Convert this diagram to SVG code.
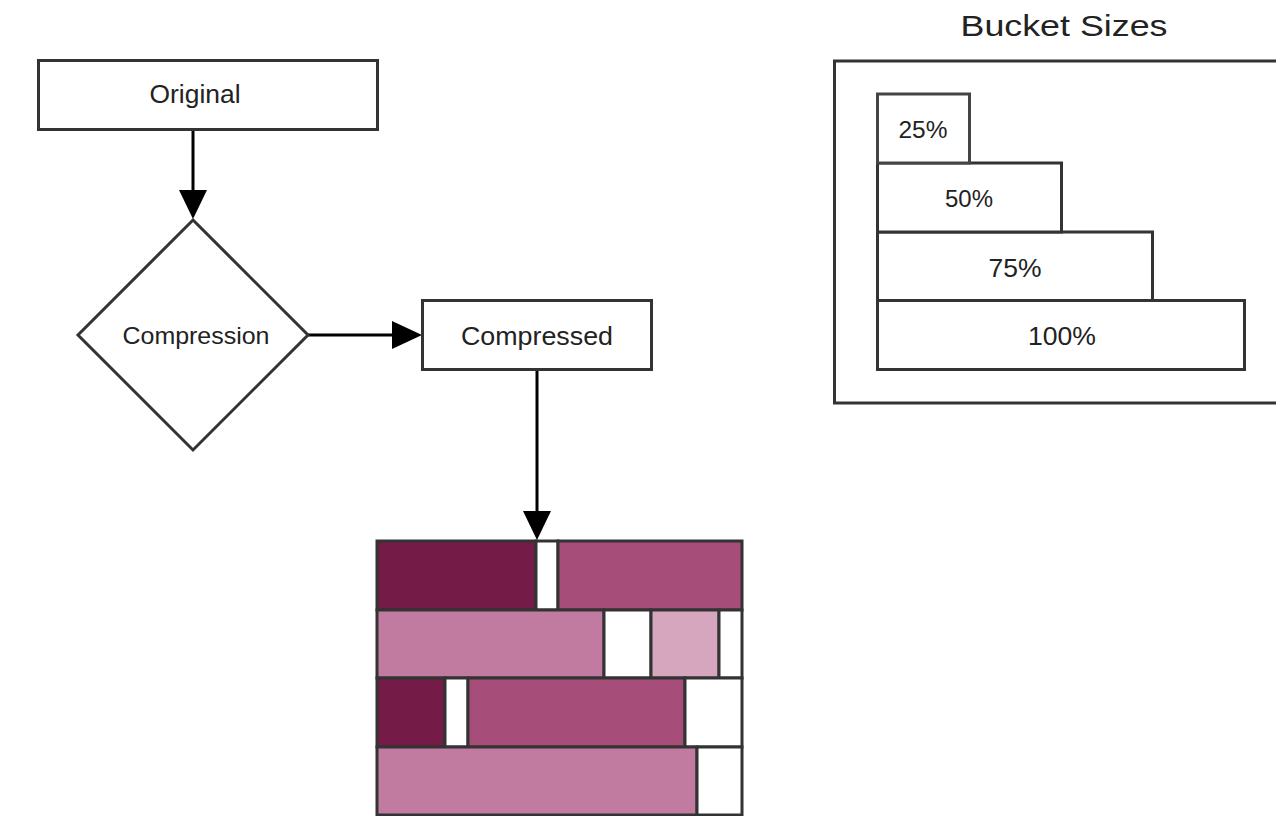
<svg xmlns="http://www.w3.org/2000/svg" width="1276" height="816" viewBox="0 0 1276 816">
  <style>
    .box { fill: #ffffff; stroke: #333333; stroke-width: 3; }
    .cell { stroke: #333333; stroke-width: 3; }
    .lbl { font-family: "Liberation Sans", Arial, sans-serif; fill: #222222; text-anchor: middle; }
    .conn { stroke: #000000; stroke-width: 3; fill: none; }
    .d { fill: #741B47; }
    .m { fill: #A64D79; }
    .p { fill: #C27BA0; }
    .l { fill: #D5A6BD; }
    .w { fill: #ffffff; }
  </style>
  <defs>
    <marker id="arrow" viewBox="0 0 10 10" refX="10" refY="5" markerWidth="9.5" markerHeight="9.5" markerUnits="userSpaceOnUse" orient="auto">
      <path d="M0,0 L10,5 L0,10 Z" fill="#000000"/>
    </marker>
  </defs>
  <rect width="1276" height="816" fill="#ffffff"/>

  <g id="connectors">
    <line class="conn" x1="193" y1="130" x2="193" y2="195"/>
    <polygon points="179,190 207,190 193,219" fill="#000000"/>
    <line class="conn" x1="308" y1="335" x2="396" y2="335"/>
    <polygon points="392,321 392,349 422,335" fill="#000000"/>
    <line class="conn" x1="537" y1="370" x2="537" y2="515"/>
    <polygon points="523,511 551,511 537,540" fill="#000000"/>
  </g>

  <g id="node-original">
    <rect class="box" x="38.5" y="60.5" width="339" height="69"/>
    <text class="lbl" x="195" y="103" font-size="26" textLength="91" lengthAdjust="spacingAndGlyphs">Original</text>
  </g>

  <g id="node-compression">
    <polygon class="box" points="193,220 308,335 193,450 78,335"/>
    <text class="lbl" x="196" y="344" font-size="24" textLength="147" lengthAdjust="spacingAndGlyphs">Compression</text>
  </g>

  <g id="node-compressed">
    <rect class="box" x="422.5" y="300.5" width="229" height="69"/>
    <text class="lbl" x="537" y="345" font-size="26" textLength="152" lengthAdjust="spacingAndGlyphs">Compressed</text>
  </g>

  <g id="node-buckets-grid">
    <rect class="cell d" x="377" y="541" width="159" height="69"/>
    <rect class="cell w" x="536" y="541" width="22" height="69"/>
    <rect class="cell m" x="558" y="541" width="184" height="69"/>

    <rect class="cell p" x="377" y="610" width="227" height="68"/>
    <rect class="cell w" x="604" y="610" width="47" height="68"/>
    <rect class="cell l" x="651" y="610" width="68" height="68"/>
    <rect class="cell w" x="719" y="610" width="23" height="68"/>

    <rect class="cell d" x="377" y="678" width="68" height="69"/>
    <rect class="cell w" x="445" y="678" width="23" height="69"/>
    <rect class="cell m" x="468" y="678" width="217" height="69"/>
    <rect class="cell w" x="685" y="678" width="57" height="69"/>

    <rect class="cell p" x="377" y="747" width="320" height="68"/>
    <rect class="cell w" x="697" y="747" width="45" height="68"/>
  </g>

  <g id="node-bucket-sizes">
    <text class="lbl" x="1064" y="36" font-size="29" textLength="207" lengthAdjust="spacingAndGlyphs">Bucket Sizes</text>
    <rect class="box" x="834.5" y="61" width="460" height="342"/>
    <rect class="box" x="877.5" y="300.5" width="367" height="69"/>
    <rect class="box" x="877.5" y="232" width="275" height="68.5"/>
    <rect class="box" x="877.5" y="163" width="184" height="69"/>
    <rect x="877.5" y="94" width="92" height="69" fill="#ffffff" stroke="#444444" stroke-width="3"/>
    <text class="lbl" x="923" y="138" font-size="24" textLength="49" lengthAdjust="spacingAndGlyphs">25%</text>
    <text class="lbl" x="969" y="207" font-size="24" textLength="48" lengthAdjust="spacingAndGlyphs">50%</text>
    <text class="lbl" x="1015" y="277" font-size="25" textLength="53" lengthAdjust="spacingAndGlyphs">75%</text>
    <text class="lbl" x="1062" y="345" font-size="26" textLength="68" lengthAdjust="spacingAndGlyphs">100%</text>
  </g>
</svg>
